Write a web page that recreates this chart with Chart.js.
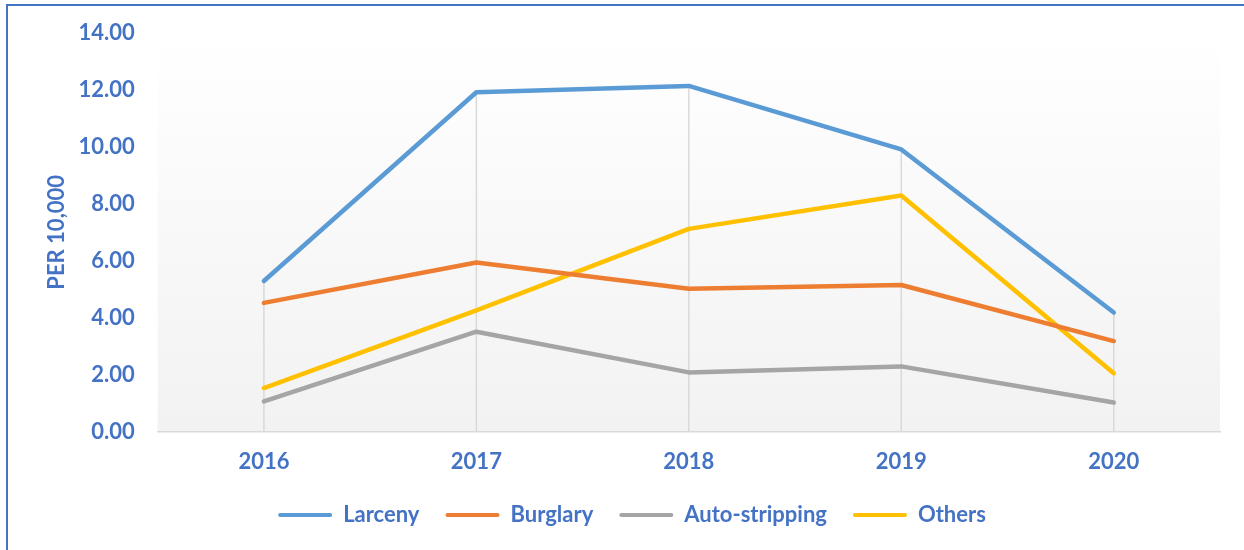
<!DOCTYPE html>
<html>
<head>
<meta charset="utf-8">
<script src="https://cdn.jsdelivr.net/npm/chart.js@4/dist/chart.umd.min.js"></script>
<style>
  html, body { margin: 0; padding: 0; background: #ffffff; }
  #wrap { width: 1244px; height: 550px; position: relative; }
</style>
</head>
<body>
<div id="wrap"><canvas id="c" width="1244" height="550"></canvas></div>
<script>
const categories = ['2016', '2017', '2018', '2019', '2020'];
const larceny = [5.29, 11.92, 12.14, 9.91, 4.18];
const burglary = [4.52, 5.94, 5.02, 5.15, 3.18];
const autoStripping = [1.06, 3.51, 2.08, 2.29, 1.02];
const others = [1.53, 4.26, 7.12, 8.29, 2.05];
const yTicks = [0, 2, 4, 6, 8, 10, 12, 14];

const blue = '#4472C4';
const font = { family: 'Lato', weight: 'bold', size: 22 };

const bgPlugin = {
  id: 'bg',
  beforeDraw(chart) {
    const { ctx, chartArea: a } = chart;
    ctx.save();
    const g = ctx.createLinearGradient(0, a.top, 0, a.bottom);
    g.addColorStop(0, '#ffffff');
    g.addColorStop(1, '#f2f2f2');
    ctx.fillStyle = g;
    ctx.fillRect(a.left, a.top, a.right - a.left, a.bottom - a.top);
    ctx.restore();
  },
  beforeDatasetsDraw(chart) {
    const { ctx, scales } = chart;
    const xs = scales.x, ys = scales.y;
    ctx.save();
    ctx.strokeStyle = '#d9d9d9';
    ctx.lineWidth = 1.5;
    categories.forEach((c, i) => {
      const vals = chart.data.datasets.map(d => d.data[i]);
      const mx = Math.max(...vals);
      const x = xs.getPixelForValue(i);
      ctx.beginPath();
      ctx.moveTo(x, ys.getPixelForValue(mx));
      ctx.lineTo(x, ys.getPixelForValue(0));
      ctx.stroke();
    });
    ctx.restore();
  },
  afterDraw(chart) {
    const { ctx, width, height } = chart;
    ctx.save();
    ctx.strokeStyle = blue;
    ctx.lineWidth = 2;
    ctx.beginPath();
    ctx.moveTo(7, height);
    ctx.lineTo(7, 5);
    ctx.lineTo(width, 5);
    ctx.stroke();
    ctx.restore();
  }
};

function ds(label, data, color) {
  return {
    label, data,
    borderColor: color, backgroundColor: color,
    borderWidth: 4.5, pointRadius: 0, tension: 0,
    borderCapStyle: 'round', borderJoinStyle: 'round'
  };
}

new Chart(document.getElementById('c'), {
  type: 'line',
  data: {
    labels: categories,
    datasets: [
      ds('Larceny', larceny, '#5B9BD5'),
      ds('Burglary', burglary, '#ED7D31'),
      ds('Auto-stripping', autoStripping, '#A5A5A5'),
      ds('Others', others, '#FFC000')
    ]
  },
  options: {
    responsive: false,
    animation: false,
    layout: { padding: { left: 44, right: 24, top: 33, bottom: 14 } },
    scales: {
      x: {
        offset: true,
        grid: { display: false, drawTicks: false },
        border: { display: true, color: '#d9d9d9', width: 1.5 },
        ticks: { color: blue, font, padding: 17 },
        afterFit(scale) { scale.height -= 14; }
      },
      y: {
        min: 0, max: 14,
        afterBuildTicks(scale) { scale.ticks = yTicks.map(v => ({ value: v })); },
        grid: { display: false, drawTicks: false },
        border: { display: false },
        ticks: { color: blue, font, padding: 23, callback: v => Number(v).toFixed(2) },
        title: { display: true, text: 'PER 10,000', color: blue, font, padding: { top: 0, bottom: 0 } },
        afterFit(scale) { scale.width -= 15; scale.paddingTop = 0; scale.paddingBottom = 0; }
      }
    },
    plugins: {
      legend: {
        position: 'bottom',
        labels: {
          color: blue, font,
          boxWidth: 54, boxHeight: 4,
          useBorderRadius: true, borderRadius: 2,
          padding: 26,
          generateLabels(chart) {
            return Chart.defaults.plugins.legend.labels.generateLabels(chart).map(l => Object.assign(l, { lineWidth: 0 }));
          }
        }
      },
      tooltip: { enabled: false }
    }
  },
  plugins: [bgPlugin]
});
</script>
</body>
</html>
